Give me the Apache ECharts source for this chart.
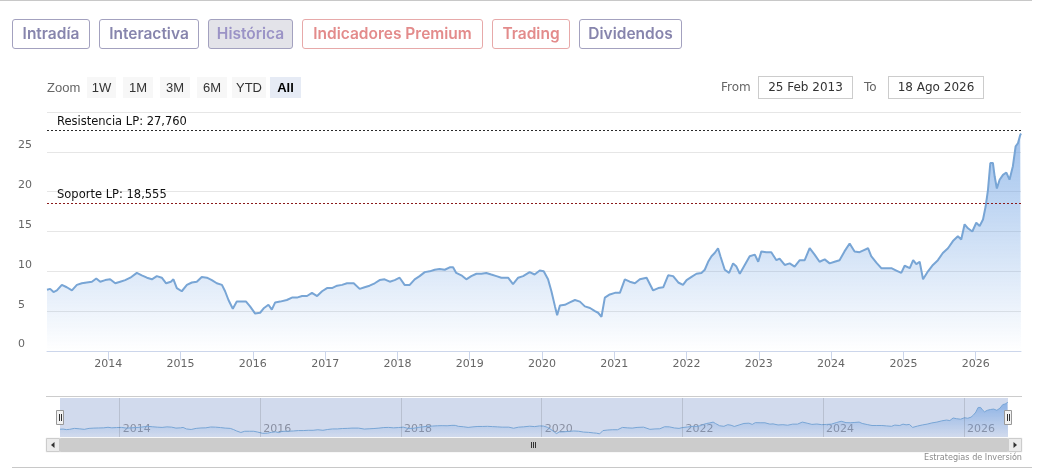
<!DOCTYPE html>
<html>
<head>
<meta charset="utf-8">
<script src="https://cdn.jsdelivr.net/npm/echarts@6/dist/echarts.min.js"></script>
<style>
  html, body { margin:0; padding:0; background:#fff; }
  body { width:1039px; height:474px; position:relative; overflow:hidden; }
  #chart { position:absolute; left:0; top:0; width:1039px; height:474px; }
  .topline { position:absolute; left:0; top:0; width:1032px; height:1px; background:#c8c8c8; }
  .botline { position:absolute; left:12px; top:467px; width:1020px; height:1px; background:#c8c8c8; }
  .tab { position:absolute; top:19px; height:28px; line-height:28px; border:1px solid #a3a1bf; border-radius:3px;
         font-family:Inter, "Open Sans", sans-serif; font-weight:600; font-size:15.5px; color:#8785ad; text-align:center; box-sizing:content-box; }
  .tab.sel { background:#e3e3e9; color:#9b93c6; }
  .tab.red { border-color:#e7a9a9; color:#e38b8b; }
  .rs { position:absolute; top:77px; height:21px; line-height:21px; font-family:"Liberation Sans Narrow","Liberation Sans",sans-serif; font-size:13px; color:#333; text-align:center; background:#f7f7f7; }
  .rs.sel { background:#e6ebf5; font-weight:bold; color:#000; }
  .lbl { position:absolute; top:77px; height:21px; line-height:21px; font-family:"DejaVu Sans",sans-serif; font-size:12px; color:#666; }
  .box { position:absolute; top:76px; height:21px; line-height:21px; border:1px solid #ccc; font-family:"DejaVu Sans",sans-serif; font-size:12px; color:#333; text-align:center; }
  .credit { position:absolute; right:17px; top:452px; font-family:"DejaVu Sans Condensed","DejaVu Sans",sans-serif; font-size:9px; color:#8a8a8a; }
</style>
</head>
<body>
<div id="chart"></div>
<div class="topline"></div>
<div class="botline"></div>

<div class="tab" style="left:12px;width:76px;">Intradía</div>
<div class="tab" style="left:99px;width:98px;">Interactiva</div>
<div class="tab sel" style="left:208px;width:83px;">Histórica</div>
<div class="tab red" style="left:302px;width:179px;">Indicadores Premium</div>
<div class="tab red" style="left:492px;width:76px;">Trading</div>
<div class="tab" style="left:579px;width:101px;">Dividendos</div>

<div class="lbl" style="left:47px;font-family:'Liberation Sans Narrow','Liberation Sans',sans-serif;font-size:13px;">Zoom</div>
<div class="rs" style="left:87px;width:29px;">1W</div>
<div class="rs" style="left:123px;width:30px;">1M</div>
<div class="rs" style="left:160px;width:30px;">3M</div>
<div class="rs" style="left:197px;width:30px;">6M</div>
<div class="rs" style="left:232px;width:34px;">YTD</div>
<div class="rs sel" style="left:270px;width:31px;">All</div>

<div class="lbl" style="left:721px;">From</div>
<div class="box" style="left:758px;width:93px;">25 Feb 2013</div>
<div class="lbl" style="left:864px;">To</div>
<div class="box" style="left:888px;width:94px;">18 Ago 2026</div>

<div class="credit">Estrategias de Inversión</div>

<script>
// ---- data ----
const dates = [
 '2013-02-25','2013-03-13','2013-03-30','2013-04-16','2013-05-11','2013-06-05','2013-07-01','2013-07-26','2013-08-20','2013-09-14',
 '2013-10-10','2013-11-01','2013-11-21','2013-12-16','2014-01-10','2014-02-05','2014-03-02','2014-03-27','2014-04-22','2014-05-25',
 '2014-06-19','2014-07-15','2014-08-09','2014-09-03','2014-09-28','2014-10-20','2014-11-13','2014-11-26','2014-12-13','2015-01-07',
 '2015-02-02','2015-02-27','2015-03-24','2015-04-18','2015-05-14','2015-06-08','2015-07-03','2015-07-29','2015-08-14','2015-08-31',
 '2015-09-22','2015-10-12','2015-11-06','2015-11-28','2015-12-18','2016-01-13','2016-02-07','2016-02-27','2016-03-20','2016-04-06',
 '2016-04-23','2016-05-18','2016-06-21','2016-07-17','2016-08-11','2016-09-06','2016-10-01','2016-10-26','2016-11-21','2016-12-16',
 '2017-01-10','2017-02-04','2017-03-02','2017-03-27','2017-04-21','2017-05-25','2017-06-24','2017-07-19','2017-08-13','2017-09-08',
 '2017-10-03','2017-10-28','2017-11-23','2017-12-18','2018-01-12','2018-02-06','2018-03-04','2018-03-29','2018-04-23','2018-05-19',
 '2018-06-13','2018-07-08','2018-08-02','2018-08-28','2018-09-22','2018-10-09','2018-10-25','2018-11-20','2018-12-15','2019-01-09',
 '2019-02-04','2019-03-01','2019-03-26','2019-04-20','2019-05-16','2019-06-10','2019-07-14','2019-08-08','2019-09-03','2019-09-28',
 '2019-10-31','2019-11-25','2019-12-21','2020-01-10','2020-02-01','2020-02-18','2020-03-07','2020-03-18','2020-04-01','2020-04-26',
 '2020-05-21','2020-06-16','2020-07-11','2020-08-05','2020-08-31','2020-09-25','2020-10-11','2020-10-28','2020-11-14','2020-12-09',
 '2021-01-04','2021-01-29','2021-02-23','2021-03-20','2021-04-15','2021-05-10','2021-06-13','2021-07-16','2021-08-11','2021-09-05',
 '2021-09-30','2021-10-25','2021-11-20','2021-12-14','2022-01-01','2022-01-26','2022-02-20','2022-03-17','2022-04-03','2022-04-20',
 '2022-05-07','2022-05-23','2022-06-09','2022-06-21','2022-07-13','2022-08-04','2022-08-24','2022-09-10','2022-09-27','2022-10-22',
 '2022-11-16','2022-12-12','2022-12-29','2023-01-14','2023-02-08','2023-03-05','2023-03-31','2023-04-16','2023-05-12','2023-06-06',
 '2023-07-01','2023-07-27','2023-08-21','2023-09-15','2023-10-10','2023-11-04','2023-11-30','2023-12-25','2024-01-19','2024-02-13',
 '2024-03-09','2024-04-04','2024-04-29','2024-05-24','2024-06-10','2024-07-06','2024-07-22','2024-08-17','2024-09-11','2024-10-06',
 '2024-11-01','2024-11-26','2024-12-21','2025-01-07','2025-02-02','2025-02-19','2025-03-07','2025-03-24','2025-04-10','2025-05-05',
 '2025-05-30','2025-06-24','2025-07-19','2025-08-14','2025-09-08','2025-10-03','2025-10-20','2025-11-06','2025-11-23','2025-12-15',
 '2026-01-04','2026-01-21','2026-02-07','2026-02-20','2026-03-04','2026-03-16','2026-03-29','2026-04-07','2026-04-18','2026-05-02',
 '2026-05-19','2026-06-05','2026-06-21','2026-07-08','2026-07-22','2026-08-03','2026-08-14','2026-08-18'
];
const prices = [
 7.7,7.8,7.4,7.6,8.3,8.0,7.6,8.3,8.5,8.6,
 8.7,9.1,8.7,8.9,9.0,8.5,8.7,8.9,9.2,9.8,
 9.5,9.2,9.0,9.4,9.2,8.5,8.7,9.0,7.9,7.5,
 8.3,8.6,8.7,9.3,9.2,8.9,8.5,8.3,7.5,6.4,
 5.3,6.2,6.2,6.2,5.6,4.7,4.8,5.4,5.8,5.2,
 6.1,6.2,6.4,6.7,6.7,6.9,6.9,7.3,6.9,7.5,
 7.9,7.9,8.2,8.3,8.5,8.5,7.8,8.0,8.2,8.5,
 8.9,9.0,8.7,8.9,9.2,8.3,8.3,9.0,9.4,9.9,
 10.0,10.2,10.3,10.2,10.5,10.5,9.8,9.5,9.0,9.4,
 9.7,9.7,9.8,9.6,9.4,9.2,9.2,8.4,9.2,9.4,
 9.9,9.6,10.1,10.0,9.0,7.5,5.6,4.5,5.7,5.8,
 6.1,6.4,6.2,5.6,5.4,5.0,4.8,4.3,6.7,7.1,
 7.3,7.3,9.0,8.7,8.5,9.0,9.2,7.6,7.9,8.0,
 9.5,9.4,8.6,8.3,8.9,9.3,9.7,9.8,10.2,11.2,
 11.9,12.3,12.9,11.9,10.2,9.8,11.0,10.6,9.7,10.8,
 11.9,12.1,11.2,12.5,12.4,12.4,11.4,11.6,10.8,11.0,
 10.6,11.4,11.4,12.9,12.1,11.2,11.5,11.0,11.2,11.4,
 12.5,13.5,12.5,12.4,12.6,12.9,11.9,11.1,10.4,10.4,
 10.4,10.1,9.8,10.7,10.4,11.4,10.9,11.2,9.0,10.0,
 10.8,11.4,12.3,12.9,13.8,14.4,14.0,15.9,15.4,15.0,
 16.1,15.7,16.5,18.1,20.2,23.6,23.6,21.9,20.4,21.5,
 22.1,22.4,21.5,23.2,25.7,26.1,27.1,27.3
];
const yTicks = { min: 0, max: 30, interval: 5 };
const navYearLines = ['2014-01-01','2016-01-01','2018-01-01','2020-01-01','2022-01-01','2024-01-01','2026-01-01'];
const resistance = { value: 27.76, label: 'Resistencia LP: 27,760' };
const support = { value: 18.555, label: 'Soporte LP: 18,555' };
const startDate = '2013-02-25';
const endDate = '2026-08-18';

// ---- chart ----
const seriesData = dates.map((d, i) => [d, prices[i]]);
const YEAR = 365.25 * 24 * 3600 * 1000;
const chart = echarts.init(document.getElementById('chart'), null, { renderer: 'canvas' });
const axisFont = 'DejaVu Sans';
const yearFmt = v => String(new Date(v).getFullYear());
const evenYearFmt = v => { const y = new Date(v).getFullYear(); return y % 2 === 0 ? String(y) : ''; };

function areaGrad(a0) {
  return new echarts.graphic.LinearGradient(0, 0, 0, 1, [
    { offset: 0, color: 'rgba(100,155,225,' + a0 + ')' },
    { offset: 1, color: 'rgba(100,155,225,0)' }
  ]);
}

chart.setOption({
  animation: false,
  grid: [
    { left: 47, right: 18, top: 112, height: 239 },
    { left: 60, width: 948, top: 398, height: 39, show: true, borderWidth: 0, backgroundColor: 'rgba(102,133,194,0.3)' }
  ],
  xAxis: [
    {
      type: 'time', gridIndex: 0, min: startDate, max: endDate,
      minInterval: YEAR * 0.99, maxInterval: YEAR * 1.01,
      axisLine: { lineStyle: { color: '#ccd6eb' } },
      axisTick: { show: true, length: 9, lineStyle: { color: '#ccd6eb' } },
      axisLabel: { color: '#666', fontFamily: axisFont, fontSize: 11, margin: 8, formatter: yearFmt },
      splitLine: { show: false }
    },
    {
      type: 'time', gridIndex: 1, min: startDate, max: endDate,
      minInterval: YEAR * 0.99, maxInterval: YEAR * 1.01,
      axisLine: { show: false }, axisTick: { show: false },
      axisLabel: { inside: true, align: 'left', color: '#8a90a2', fontFamily: axisFont, fontSize: 11, margin: 2,
                   padding: [0, 0, 0, 3], formatter: evenYearFmt, hideOverlap: false },
      splitLine: { show: false }
    }
  ],
  yAxis: [
    {
      type: 'value', gridIndex: 0, min: yTicks.min, max: yTicks.max, interval: yTicks.interval,
      axisLine: { show: false }, axisTick: { show: false },
      axisLabel: { color: '#666', fontFamily: axisFont, fontSize: 11, align: 'left', margin: 29,
                   verticalAlign: 'bottom', showMaxLabel: false, padding: [0, 0, 1, 0] },
      splitLine: { lineStyle: { color: '#e6e6e6' } }
    },
    { type: 'value', gridIndex: 1, min: 2, max: 30.5, show: false, splitLine: { show: false } }
  ],
  series: [
    {
      type: 'line', xAxisIndex: 0, yAxisIndex: 0, data: seriesData, showSymbol: false, symbol: 'none',
      lineStyle: { color: '#78a5d5', width: 2 },
      areaStyle: { color: areaGrad(0.87) },
      silent: true,
      markLine: {
        silent: true, symbol: 'none', animation: false,
        data: [
          { yAxis: resistance.value, lineStyle: { color: '#2a2a2a', type: [2, 2], width: 1 },
            label: { show: true, position: 'insideStartTop', formatter: resistance.label, distance: [10, 2],
                     color: '#111', fontFamily: axisFont, fontSize: 11.5 } },
          { yAxis: support.value, lineStyle: { color: '#8b1a1a', type: [2, 2], width: 1 },
            label: { show: true, position: 'insideStartTop', formatter: support.label, distance: [10, 2],
                     color: '#111', fontFamily: axisFont, fontSize: 11.5 } }
        ]
      }
    },
    {
      type: 'line', xAxisIndex: 1, yAxisIndex: 1, data: seriesData, showSymbol: false, symbol: 'none',
      lineStyle: { color: '#78a5d5', width: 1 },
      areaStyle: { color: areaGrad(0.9) },
      silent: true,
      markLine: {
        silent: true, symbol: 'none', animation: false, label: { show: false },
        lineStyle: { color: 'rgba(0,0,0,0.12)', type: 'solid', width: 1 },
        data: navYearLines.map(d => ({ xAxis: d }))
      }
    }
  ],
  graphic: [
    { type: 'line', shape: { x1: 46, y1: 396.5, x2: 1022, y2: 396.5 }, style: { stroke: '#cccccc', lineWidth: 1 } },
    // scrollbar
    { type: 'rect', shape: { x: 46, y: 438, width: 976, height: 14 }, style: { fill: '#f2f2f2', stroke: '#f2f2f2' } },
    { type: 'rect', shape: { x: 60.5, y: 438.5, width: 947, height: 13 }, style: { fill: '#cccccc', stroke: '#cccccc' } },
    { type: 'rect', shape: { x: 46.5, y: 438.5, width: 13, height: 13 }, style: { fill: '#ebebeb', stroke: '#cccccc' } },
    { type: 'polygon', shape: { points: [[54.5, 442], [54.5, 448], [51, 445]] }, style: { fill: '#333' } },
    { type: 'rect', shape: { x: 1008.5, y: 438.5, width: 13, height: 13 }, style: { fill: '#ebebeb', stroke: '#cccccc' } },
    { type: 'polygon', shape: { points: [[1013.5, 442], [1013.5, 448], [1017, 445]] }, style: { fill: '#333' } },
    { type: 'line', shape: { x1: 531.5, y1: 442, x2: 531.5, y2: 448 }, style: { stroke: '#333', lineWidth: 1 } },
    { type: 'line', shape: { x1: 533.5, y1: 442, x2: 533.5, y2: 448 }, style: { stroke: '#333', lineWidth: 1 } },
    { type: 'line', shape: { x1: 535.5, y1: 442, x2: 535.5, y2: 448 }, style: { stroke: '#333', lineWidth: 1 } },
    // navigator handles
    { type: 'rect', z: 100, shape: { x: 56.5, y: 410.5, width: 7, height: 14 }, style: { fill: '#f2f2f2', stroke: '#999', lineWidth: 1 } },
    { type: 'line', z: 101, shape: { x1: 59.5, y1: 414, x2: 59.5, y2: 421 }, style: { stroke: '#333', lineWidth: 1 } },
    { type: 'line', z: 101, shape: { x1: 61.5, y1: 414, x2: 61.5, y2: 421 }, style: { stroke: '#333', lineWidth: 1 } },
    { type: 'rect', z: 100, shape: { x: 1004.5, y: 410.5, width: 7, height: 14 }, style: { fill: '#f2f2f2', stroke: '#999', lineWidth: 1 } },
    { type: 'line', z: 101, shape: { x1: 1007.5, y1: 414, x2: 1007.5, y2: 421 }, style: { stroke: '#333', lineWidth: 1 } },
    { type: 'line', z: 101, shape: { x1: 1009.5, y1: 414, x2: 1009.5, y2: 421 }, style: { stroke: '#333', lineWidth: 1 } }
  ]
});
</script>
</body>
</html>
